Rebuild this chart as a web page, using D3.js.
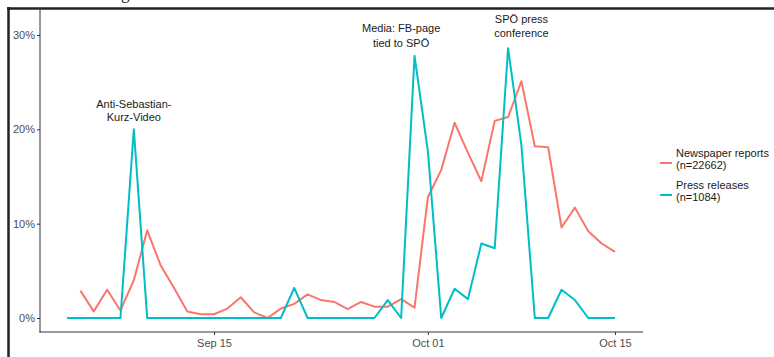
<!DOCTYPE html>
<html><head><meta charset="utf-8">
<script src="https://cdn.jsdelivr.net/npm/d3@7"></script>
<style>html,body{margin:0;padding:0;background:#fff;}svg{display:block;}</style>
</head><body>
<svg id="c" width="774" height="357"></svg>
<script>
const dates = ["2017-09-04","2017-09-05","2017-09-06","2017-09-07","2017-09-08","2017-09-09","2017-09-10","2017-09-11","2017-09-12","2017-09-13","2017-09-14","2017-09-15","2017-09-16","2017-09-17","2017-09-18","2017-09-19","2017-09-20","2017-09-21","2017-09-22","2017-09-23","2017-09-24","2017-09-25","2017-09-26","2017-09-27","2017-09-28","2017-09-29","2017-09-30","2017-10-01","2017-10-02","2017-10-03","2017-10-04","2017-10-05","2017-10-06","2017-10-07","2017-10-08","2017-10-09","2017-10-10","2017-10-11","2017-10-12","2017-10-13","2017-10-14","2017-10-15"];
const newspaper = [null,2.9,0.7,3.0,0.8,4.0,9.3,5.6,3.2,0.7,0.4,0.4,1.0,2.2,0.6,0.0,1.0,1.5,2.5,1.9,1.7,0.95,1.7,1.2,1.2,2.0,1.1,12.8,15.7,20.7,17.5,14.5,20.9,21.3,25.1,18.2,18.1,9.6,11.7,9.2,7.9,7.0];
const press = [0,0,0,0,0,20.0,0,0,0,0,0,0,0,0,0,0,0,3.2,0,0,0,0,0,0,1.9,0,27.8,17.7,0,3.1,2.0,7.9,7.4,28.6,18.3,0,0,3.0,1.9,0,0,0];
const seriesNames = ["Newspaper reports","Press releases"];
const seriesCounts = ["(n=22662)","(n=1084)"];
const colors = ["#F8766D","#00BFC4"];
const yTicks = [0,10,20,30];
const xTicks = ["2017-09-15","2017-10-01","2017-10-15"];
const annotations = [
  {date:"2017-09-09", lines:["Anti-Sebastian-","Kurz-Video"], y:[22.7,21.3]},
  {date:"2017-09-29", lines:["Media: FB-page","tied to SPÖ"], y:[30.75,29.2]},
  {date:"2017-10-08", lines:["SPÖ press","conference"], y:[31.7,30.2]}
];

const parse = d3.timeParse("%Y-%m-%d");
const svg = d3.select("#c");
const font = "Liberation Sans, Arial, sans-serif";

const x = d3.scaleTime().domain([parse(dates[0]), parse(dates[dates.length-1])]).range([67,615]);
const y = d3.scaleLinear().domain([0,30]).range([318,35]);

// frame of the screenshot
svg.append("text").attr("x",121).attr("y",-1).attr("font-family","Liberation Serif, serif").attr("font-size",17).attr("fill","#222").text("g");
svg.append("line").attr("x1",7).attr("x2",774).attr("y1",8.5).attr("y2",8.5).attr("stroke","#222").attr("stroke-width",2.5);
svg.append("line").attr("x1",8.5).attr("x2",8.5).attr("y1",7).attr("y2",357).attr("stroke","#222").attr("stroke-width",2.5);

// axes
const gy = svg.append("g").attr("transform","translate(40,0)")
  .call(d3.axisLeft(y).tickValues(yTicks).tickFormat(d=>d+"%").tickSize(3).tickPadding(2));
gy.select(".domain").remove();
gy.selectAll("line").attr("stroke","#333");
gy.selectAll("text").attr("font-family",font).attr("font-size",11).attr("fill","#4D4D4D");
svg.append("line").attr("x1",40).attr("x2",40).attr("y1",10).attr("y2",332.5).attr("stroke","#333").attr("stroke-width",1);

const gx = svg.append("g").attr("transform","translate(0,332)")
  .call(d3.axisBottom(x).tickValues(xTicks.map(parse)).tickFormat(d3.timeFormat("%b %d")).tickSize(3).tickPadding(4));
gx.select(".domain").remove();
gx.selectAll("line").attr("stroke","#333");
gx.selectAll("text").attr("font-family",font).attr("font-size",11).attr("fill","#4D4D4D");
svg.append("line").attr("x1",39.5).attr("x2",643).attr("y1",332).attr("y2",332).attr("stroke","#333").attr("stroke-width",1);

// lines
const series = [newspaper, press];
series.forEach((vals,i)=>{
  const line = d3.line().defined(d=>d[1]!=null).x(d=>x(parse(d[0]))).y(d=>y(d[1]));
  svg.append("path").datum(dates.map((d,j)=>[d,vals[j]]))
    .attr("fill","none").attr("stroke",colors[i]).attr("stroke-width",2).attr("stroke-linejoin","round")
    .attr("d",line);
});

// annotations
annotations.forEach(a=>{
  a.lines.forEach((t,k)=>{
    svg.append("text").attr("x",x(parse(a.date))).attr("y",y(a.y[k]))
      .attr("text-anchor","middle").attr("dominant-baseline","central")
      .attr("font-family",font).attr("font-size",11).attr("fill","#1a1a1a").text(t);
  });
});

// legend
const legY = [158,190];
seriesNames.forEach((n,i)=>{
  const g = svg.append("g");
  g.append("line").attr("x1",660).attr("x2",672).attr("y1",legY[i]+5).attr("y2",legY[i]+5).attr("stroke",colors[i]).attr("stroke-width",2);
  g.append("text").attr("x",676).attr("y",legY[i]-5).attr("dominant-baseline","central").attr("font-family",font).attr("font-size",11).attr("fill","#1a1a1a").text(n);
  g.append("text").attr("x",676).attr("y",legY[i]+7).attr("dominant-baseline","central").attr("font-family",font).attr("font-size",11).attr("fill","#1a1a1a").text(seriesCounts[i]);
});
</script>
</body></html>
